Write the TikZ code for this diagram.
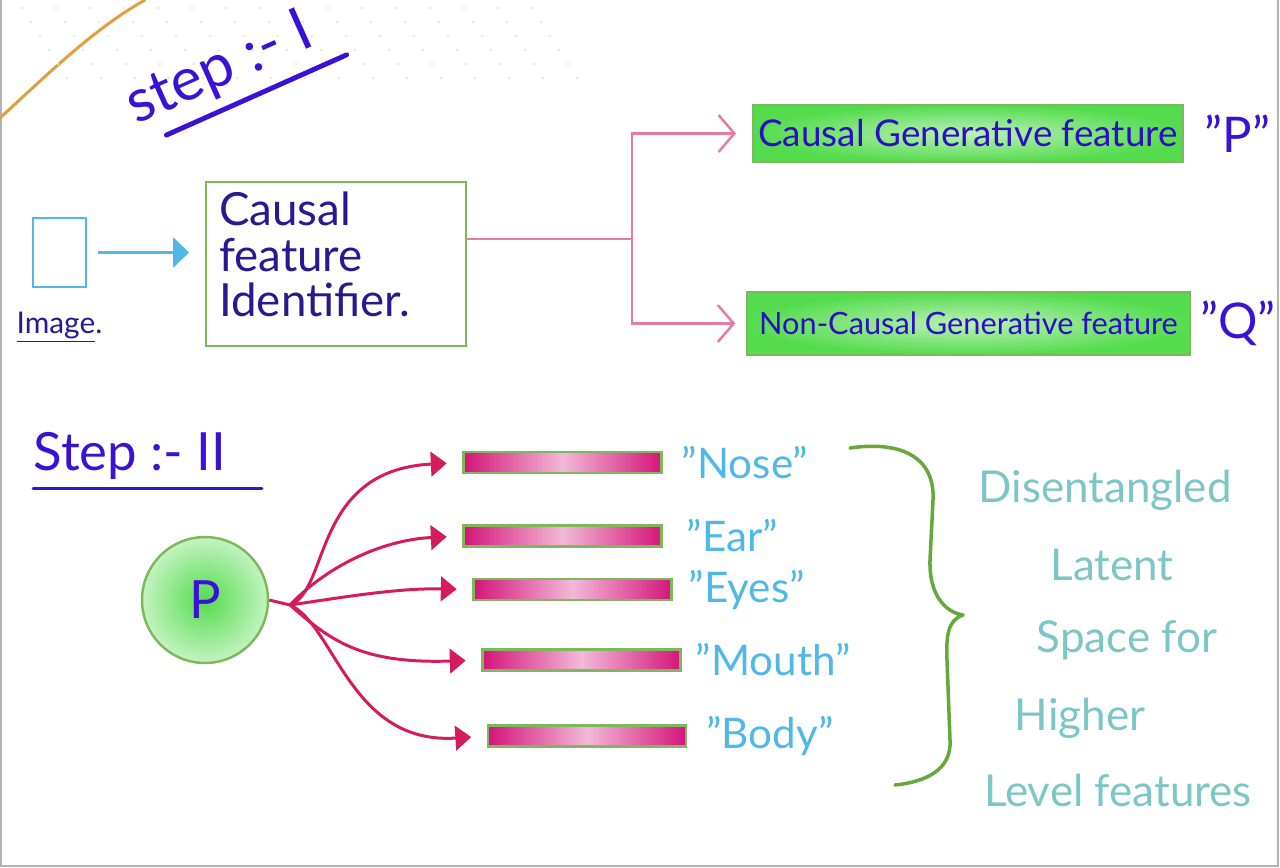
\documentclass[tikz,border=0pt]{standalone}
\usepackage{fontspec}
\setmainfont{Lato}
\usetikzlibrary{positioning,arrows.meta,calc}
\definecolor{stepblue}{HTML}{3A12D6}
\definecolor{inkblue}{HTML}{2C10C0}
\definecolor{navyink}{HTML}{2A1890}
\definecolor{skyblue}{HTML}{4FB8E8}
\definecolor{tealink}{HTML}{7CC6C6}
\definecolor{boxgreen}{HTML}{55DC4E}
\definecolor{boxedge}{HTML}{7DB85A}
\definecolor{bracegreen}{HTML}{66A83A}
\definecolor{barpink}{HTML}{D4157A}
\definecolor{arrowred}{HTML}{D41C5C}
\definecolor{pinkline}{HTML}{E87A9E}
\definecolor{cornerorange}{HTML}{E0A040}

\begin{document}
\begin{tikzpicture}[x=0.02cm, y=-0.02cm,
		greenbox/.style={draw=boxedge, line width=1.4pt, inner color=boxgreen!40, outer color=boxgreen, minimum height=1.14cm, inner sep=1pt},
		featbar/.style={draw=boxedge, line width=1.2pt, left color=barpink, right color=barpink, middle color=barpink!30, minimum width=3.96cm, minimum height=0.42cm, inner sep=0pt},
		partlabel/.style={text=skyblue, font=\fontsize{24}{28}\selectfont, inner sep=0pt},
		latentline/.style={text=tealink, font=\fontsize{25}{30}\selectfont, inner sep=0pt},
		redarrow/.style={draw=arrowred, line width=1.7pt, -{Triangle[length=9pt,width=14pt]}, shorten >=9pt},
		pinkarrow/.style={draw=pinkline, line width=1.4pt, -{Straight Barb[length=9pt,width=21pt]}}]
			%%%%% START %%%%%
			\useasboundingbox (0,0) rectangle (1280,867);
			
			% paper edge and corner marks
			\draw[black!30, line width=1.2pt] (1,0) -- (1,866) -- (1278,866) -- (1278,0);
			\draw[cornerorange, line width=1.7pt, line cap=round] (0,118) .. controls (50,72) and (95,28) .. (145,0);
			\foreach \r in {0,...,5}
				\foreach \c in {0,...,15}
					\fill[black!10] ({22+\c*34+\r*9}, {8+\r*14}) circle (0.8pt);
			
			% step I
			\node[text=stepblue, font=\fontsize{34}{40}\selectfont, rotate=24, inner sep=0pt] (step1) at (220,70) {step :- I};
			\draw[stepblue, line width=2.8pt, line cap=round] ($(step1.south west)!0.12!(step1.south east)+(4,10)$) -- ($(step1.south west)!1.12!(step1.south east)+(4,10)$);
			
			\node[draw=skyblue, line width=1.5pt, minimum width=1.06cm, minimum height=1.38cm, inner sep=0pt] (img) at (59.5,252.5) {};
			\node[text=navyink, font=\fontsize{17}{20}\selectfont, below=0.35cm of img] (imglabel) {\underline{Image}.};
			
			\node[draw=boxedge, line width=1.4pt, minimum width=5.2cm, minimum height=3.28cm] (ident) at (336,264) {};
			\node[anchor=north west, align=left, inner sep=0pt, text=navyink, font=\fontsize{26}{26}\selectfont] (identtext) at ([xshift=8pt,yshift=-6pt]ident.north west) {Causal\\feature\\Identifier.};
			\draw[skyblue, line width=1.7pt, -{Triangle[length=9pt,width=17pt]}, shorten <=6pt, shorten >=9pt] (img.east) -- (ident.west |- img.east);
			
			\node[greenbox, minimum width=8.6cm, text=inkblue, font=\fontsize{21}{24}\selectfont] (cgf) at (968,133.5) {Causal Generative feature};
			\node[greenbox, minimum width=8.86cm, minimum height=1.26cm, text=inkblue, font=\fontsize{17.5}{22}\selectfont] (ncgf) at (968.5,323.5) {Non-Causal Generative feature};
			\node[text=stepblue, font=\fontsize{28}{32}\selectfont, inner sep=0pt, right=0.4cm of cgf] (plabel) {"P"};
			\node[text=stepblue, font=\fontsize{28}{32}\selectfont, inner sep=0pt, right=0.18cm of ncgf] (qlabel) {"Q"};
			
			\coordinate (split) at (632,239);
			\draw[pinkline, line width=1.4pt] (ident.east |- split) -- (split);
			\draw[pinkarrow, shorten >=9pt] (split) |- (cgf.west);
			\draw[pinkarrow, shorten >=6pt] (split) |- (ncgf.west);
			
			% step II
			\node[text=stepblue, font=\fontsize{30}{34}\selectfont, inner sep=0pt] (step2) at (130,456) {Step :- II};
			\draw[stepblue, line width=1.8pt, line cap=round] ([yshift=-5pt]step2.south west) -- ([xshift=20pt,yshift=-5pt]step2.south east);
			
			\node[circle, draw=boxedge, line width=1.4pt, inner color=boxgreen, outer color=boxgreen!35, minimum size=2.52cm, text=stepblue, font=\fontsize{30}{36}\selectfont] (pc) at (205,600) {P};
			\coordinate (fork) at (290,605);
			
			\node[featbar] (nose) at (562.5,462.5) {};
			\node[featbar] (ear) at (562.5,536) {};
			\node[featbar] (eyes) at (572.5,589.5) {};
			\node[featbar] (mouth) at (581.5,660) {};
			\node[featbar] (body) at (587,736) {};
			
			\node[partlabel, right=0.38cm of nose] (noselabel) {"Nose"};
			\node[partlabel, right=0.48cm of ear] (earlabel) {"Ear"};
			\node[partlabel, right=0.32cm of eyes] (eyeslabel) {"Eyes"};
			\node[partlabel, right=0.28cm of mouth] (mouthlabel) {"Mouth"};
			\node[partlabel, right=0.38cm of body] (bodylabel) {"Body"};
			
			\draw[arrowred, line width=1.7pt] (pc.east) -- (fork);
			\draw[redarrow] (fork) .. controls (330,590) and (312,470) .. (nose.west);
			\draw[redarrow] (fork) .. controls (325,568) and (380,540) .. (ear.west);
			\draw[redarrow] (fork) .. controls (350,596) and (400,588) .. (eyes.west);
			\draw[redarrow] (fork) .. controls (330,640) and (360,664) .. (mouth.west);
			\draw[redarrow] (fork) .. controls (335,625) and (350,745) .. (body.west);
			
			% brace over the latent features
			\draw[bracegreen, line width=2pt, line cap=round, line join=round] (850,448) .. controls (905,440) and (935,460) .. (933,500) -- (930,560) .. controls (929,595) and (945,612) .. (963,615) .. controls (948,620) and (946,635) .. (947,660) -- (950,740) .. controls (952,770) and (925,782) .. (895,785);
			
			\node[latentline] (lat1) at (1105,490) {Disentangled};
			\node[latentline] (lat2) at (1112,565) {Latent};
			\node[latentline] (lat3) at (1127,640) {Space for};
			\node[latentline] (lat4) at (1080,718) {Higher};
			\node[latentline] (lat5) at (1118,790) {Level features};
			
			%%%%% END %%%%%
		\end{tikzpicture}
\end{document}
